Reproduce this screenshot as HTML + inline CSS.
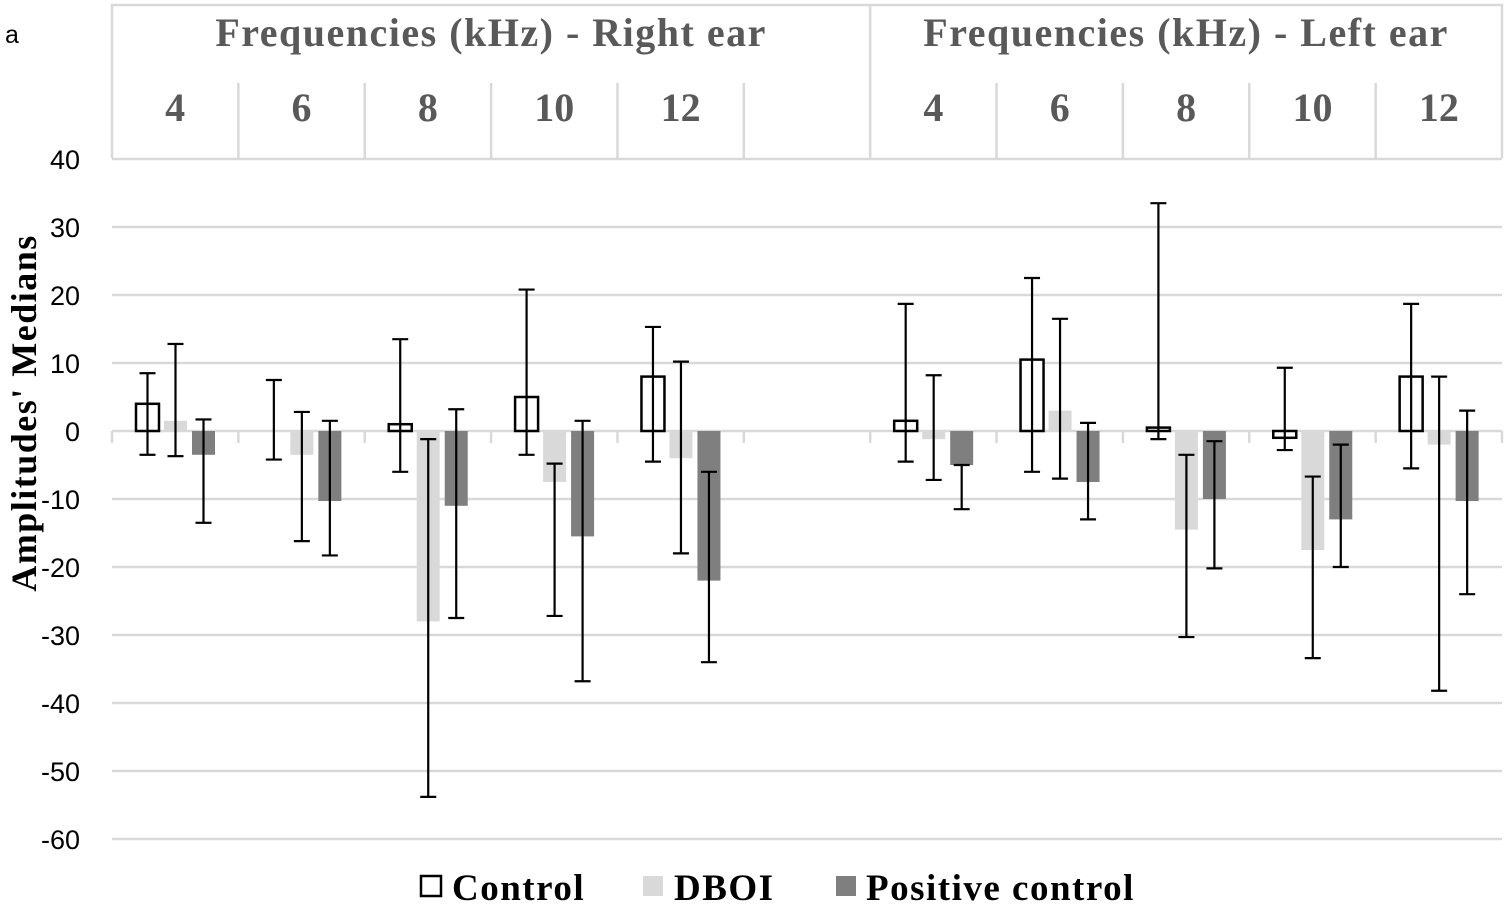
<!DOCTYPE html>
<html><head><meta charset="utf-8"><style>
html,body{margin:0;padding:0;background:#fff;}
svg{display:block;}
</style></head><body>
<svg id="chart" width="1508" height="905" xmlns="http://www.w3.org/2000/svg"></svg>
<script>
const freqLabels = ["4","6","8","10","12","","4","6","8","10","12"];
const controlMed = [4,0,1,5,8,null,1.5,10.5,0.5,-1,8];
const controlLo = [-3.5,-4.2,-6,-3.5,-4.5,null,-4.5,-6,-1.2,-2.8,-5.5];
const controlHi = [8.5,7.5,13.5,20.8,15.3,null,18.7,22.5,33.5,9.3,18.7];
const dboiMed = [1.5,-3.5,-28,-7.5,-4,null,-1.2,3,-14.5,-17.5,-2];
const dboiLo = [-3.7,-16.2,-53.8,-27.2,-18,null,-7.2,-7,-30.3,-33.4,-38.2];
const dboiHi = [12.8,2.8,-1.2,-4.8,10.2,null,8.2,16.5,-3.5,-6.7,8];
const pcMed = [-3.5,-10.3,-11,-15.5,-22,null,-5,-7.5,-10,-13,-10.3];
const pcLo = [-13.5,-18.3,-27.5,-36.8,-34,null,-11.5,-13,-20.2,-20,-24];
const pcHi = [1.7,1.5,3.2,1.5,-6,null,-5,1.2,-1.5,-2,3];
const yTicks = [40,30,20,10,0,-10,-20,-30,-40,-50,-60];

const NS="http://www.w3.org/2000/svg";
const svg=document.getElementById('chart');
function mk(tag,attrs,parent){const e=document.createElementNS(NS,tag);for(const k in attrs)e.setAttribute(k,attrs[k]);(parent||svg).appendChild(e);return e;}
const X0=112,X1=1502,bw=(X1-X0)/11;
const y=v=>431-v*6.8;
const bandX=i=>X0+i*bw;

yTicks.forEach(t=>{
  const g=mk('line',{x1:X0,x2:X1,y1:y(t),y2:y(t),stroke:'#d9d9d9','stroke-width':2.5});
  
  
  const tx=mk('text',{x:80,y:y(t)+10,'text-anchor':'end','font-family':'Liberation Sans, sans-serif','font-size':27,fill:'#000'});
  tx.textContent=t;
  
  
});
for(let i=0;i<=11;i++){
  const l=mk('line',{x1:bandX(i),x2:bandX(i),y1:431,y2:443,stroke:'#d9d9d9','stroke-width':2.5});
  
  
}
const hdr=mk('g',{});


mk('polyline',{points:`${X0},158 ${X0},5 ${X1},5 ${X1},158`,fill:'none',stroke:'#d9d9d9','stroke-width':2.5},hdr);
for(let i=1;i<11;i++){
  mk('line',{x1:bandX(i),x2:bandX(i),y1:(i==6?5:83),y2:158,stroke:'#d9d9d9','stroke-width':2.5},hdr);
}
const hs={'font-family':'Liberation Serif, serif','font-weight':'bold','font-size':40,'letter-spacing':1.5,fill:'#595959','text-anchor':'middle'};
let t1=mk('text',Object.assign({x:(bandX(0)+bandX(6))/2,y:46},hs),hdr);t1.textContent='Frequencies (kHz) - Right ear';

let t2=mk('text',Object.assign({x:(bandX(6)+bandX(11))/2,y:46},hs),hdr);t2.textContent='Frequencies (kHz) - Left ear';

freqLabels.forEach((f,i)=>{
  if(!f)return;
  const t=mk('text',Object.assign({x:bandX(i)+bw/2,y:121},hs,{'letter-spacing':0}),hdr);t.textContent=f;
  
  
});
const series=[
 {med:controlMed,lo:controlLo,hi:controlHi,off:24,fill:'#fff',stroke:'#000',name:'control'},
 {med:dboiMed,lo:dboiLo,hi:dboiHi,off:52,fill:'#d9d9d9',stroke:'none',name:'dboi'},
 {med:pcMed,lo:pcLo,hi:pcHi,off:80,fill:'#7f7f7f',stroke:'none',name:'positive-control'}];
const barW=23;
series.forEach(s=>{
  s.med.forEach((v,i)=>{
    if(v===null)return;
    const x=bandX(i)+s.off;
    const top=Math.min(y(v),y(0)),h=Math.abs(y(v)-y(0));
    const r=mk('rect',{x:x,y:top,width:barW,height:h,fill:s.fill,stroke:s.stroke,'stroke-width':s.stroke==='none'?0:2.5});
    
    
  });
});
series.forEach(s=>{
  s.med.forEach((v,i)=>{
    if(v===null)return;
    const cx=bandX(i)+s.off+barW/2;
    const g=mk('g',{stroke:'#000','stroke-width':2.2});
    
    
    mk('line',{x1:cx,x2:cx,y1:y(s.lo[i]),y2:y(s.hi[i])},g);
    mk('line',{x1:cx-8,x2:cx+8,y1:y(s.lo[i]),y2:y(s.lo[i])},g);
    mk('line',{x1:cx-8,x2:cx+8,y1:y(s.hi[i]),y2:y(s.hi[i])},g);
  });
});
const yt=mk('text',{x:0,y:0,transform:'translate(36,413) rotate(-90)','text-anchor':'middle','font-family':'Liberation Serif, serif','font-weight':'bold','font-size':36,'letter-spacing':1.5,fill:'#000'});
yt.textContent="Amplitudes' Medians";


const pa=mk('text',{x:5,y:43,'font-family':'Liberation Sans, sans-serif','font-size':25,fill:'#000'});
pa.textContent='a';


const lg=mk('g',{});


const items=[['Control','#fff','#000',421,452],['DBOI','#d9d9d9','none',643,674],['Positive control','#7f7f7f','none',836,866]];
items.forEach(it=>{
  const e=mk('g',{},lg);
  
  
  mk('rect',{x:it[3],y:876,width:20,height:20,fill:it[1],stroke:it[2],'stroke-width':it[2]==='none'?0:2.5},e);
  const t=mk('text',{x:it[4],y:900,'font-family':'Liberation Serif, serif','font-weight':'bold','font-size':37,'letter-spacing':1.5,fill:'#000'},e);
  t.textContent=it[0];
});
</script>
</body></html>
